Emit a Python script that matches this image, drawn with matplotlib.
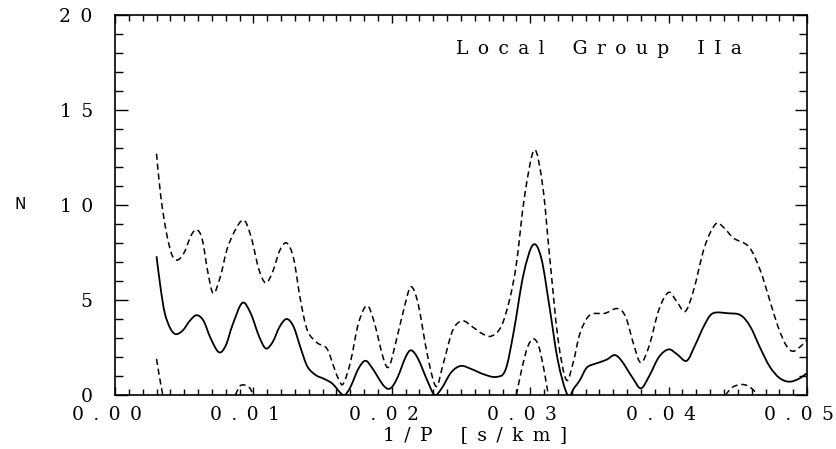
import numpy as np
import matplotlib
matplotlib.use("Agg")
import matplotlib.pyplot as plt
from matplotlib.path import Path
from matplotlib.patches import PathPatch
from matplotlib.ticker import MultipleLocator, FuncFormatter
from matplotlib.transforms import ScaledTranslation

# mean curve (solid)
x_mean = [0.0030, 0.0033, 0.0036, 0.0040, 0.0044, 0.0049, 0.0054, 0.0059, 0.0064, 0.0069,
          0.0075, 0.0080, 0.0085, 0.0092, 0.0098, 0.0104, 0.0109, 0.0114, 0.0119, 0.0124,
          0.0129, 0.0134, 0.0139, 0.0145, 0.0151, 0.0157, 0.0163, 0.0166, 0.0170, 0.0176,
          0.0181, 0.0186, 0.0194, 0.0199, 0.0204, 0.0210, 0.0214, 0.0219, 0.0226, 0.0231,
          0.0236, 0.0243, 0.0250, 0.0258, 0.0266, 0.0275, 0.0282, 0.0288, 0.0295, 0.0302,
          0.0308, 0.0314, 0.0320, 0.0327, 0.0332, 0.0336, 0.0341, 0.0348, 0.0355, 0.0361,
          0.0366, 0.0374, 0.0380, 0.0386, 0.0393, 0.0400, 0.0406, 0.0413, 0.0419, 0.0426,
          0.0432, 0.0443, 0.0452, 0.0459, 0.0466, 0.0473, 0.0480, 0.0487, 0.0494, 0.0500]
y_mean = [7.3, 5.6, 4.3, 3.5, 3.2, 3.4, 3.9, 4.2, 3.9, 3.0,
          2.25, 2.6, 3.7, 4.85, 4.3, 3.1, 2.45, 2.8, 3.6, 4.0,
          3.6, 2.5, 1.5, 1.05, 0.85, 0.6, 0.1, 0.0, 0.4, 1.4,
          1.8, 1.4, 0.5, 0.35, 0.9, 2.0, 2.35, 1.9, 0.7, 0.0,
          0.35, 1.2, 1.53, 1.35, 1.1, 0.95, 1.3, 3.3, 6.3, 7.9,
          7.2, 4.6, 1.8, 0.0, 0.4, 0.8, 1.45, 1.67, 1.85, 2.1,
          1.8, 0.9, 0.35, 1.0, 2.0, 2.4, 2.15, 1.8, 2.6, 3.7,
          4.3, 4.3, 4.2, 3.6, 2.5, 1.5, 0.9, 0.7, 0.85, 1.15]

# upper envelope (dashed)
x_upper = [0.0030, 0.0033, 0.0037, 0.0041, 0.0045, 0.0050, 0.0055, 0.0059, 0.0063, 0.0067,
           0.0071, 0.0076, 0.0082, 0.0092, 0.0098, 0.0104, 0.0109, 0.0114, 0.0119, 0.0124,
           0.0129, 0.0134, 0.0139, 0.0146, 0.0153, 0.0158, 0.0162, 0.0165, 0.0170, 0.0176,
           0.0182, 0.0187, 0.0194, 0.0198, 0.0203, 0.0210, 0.0214, 0.0219, 0.0226, 0.0232,
           0.0237, 0.0244, 0.0251, 0.0258, 0.0266, 0.0272, 0.0279, 0.0285, 0.0290, 0.0296,
           0.0303, 0.0309, 0.0314, 0.0320, 0.0326, 0.0331, 0.0336, 0.0343, 0.0354, 0.0363,
           0.0369, 0.0375, 0.0380, 0.0386, 0.0393, 0.0400, 0.0406, 0.0412, 0.0418, 0.0426,
           0.0434, 0.0440, 0.0447, 0.0458, 0.0466, 0.0473, 0.0479, 0.0485, 0.0490, 0.0496,
           0.0500]
y_upper = [12.7, 10.5, 8.6, 7.4, 7.1, 7.5, 8.4, 8.7, 8.2, 6.5,
           5.35, 6.2, 7.9, 9.2, 8.4, 6.6, 5.9, 6.5, 7.6, 8.0,
           7.2, 5.0, 3.4, 2.75, 2.45, 1.5, 0.75, 0.6, 1.7, 3.8,
           4.7, 3.9, 1.9, 1.5, 2.8, 4.9, 5.7, 4.8, 2.0, 0.45,
           1.6, 3.4, 3.9, 3.6, 3.2, 3.1, 3.6, 5.0, 6.9, 10.5,
           12.9, 11.0, 7.3, 3.0, 0.8, 1.7, 3.25, 4.2, 4.3, 4.55,
           4.1, 2.6, 1.7, 2.6, 4.5, 5.4, 4.9, 4.4, 5.5, 7.8,
           9.0, 8.8, 8.25, 7.8, 6.6, 5.0, 3.6, 2.6, 2.3, 2.6,
           2.9]

# lower envelope (dashed), the pieces that stay above zero
lower_x = [[0.0030, 0.0032, 0.00345],
           [0.0087, 0.0090, 0.0093, 0.0097, 0.0100],
           [0.0290, 0.0294, 0.0298, 0.0302, 0.0306, 0.0310, 0.0313],
           [0.0441, 0.0446, 0.0452, 0.0458, 0.0465]]
lower_y = [[1.9, 1.0, 0.0],
           [0.0, 0.45, 0.53, 0.4, 0.0],
           [0.0, 1.4, 2.5, 2.95, 2.6, 1.3, 0.0],
           [0.0, 0.4, 0.55, 0.45, 0.0]]

label_font = ['DejaVu Serif', 'DejaVu Sans']
EN = '\u2002'


def spaced(*words, gap=3):
    # wide letter spacing like the original plotting package
    return (EN * gap).join(EN.join(w) for w in words)


def smooth_path(xs, ys):
    # catmull-rom through the read points, as cubic bezier segments
    p = np.column_stack([xs, ys]).astype(float)
    pts = np.vstack([p[0], p, p[-1]])
    verts = [p[0]]
    codes = [Path.MOVETO]
    for i in range(1, len(pts) - 2):
        p0, p1, p2, p3 = pts[i - 1], pts[i], pts[i + 1], pts[i + 2]
        verts += [p1 + (p2 - p0) / 6, p2 - (p3 - p1) / 6, p2]
        codes += [Path.CURVE4] * 3
    return Path(verts, codes)


def draw_curve(ax, xs, ys, **kw):
    patch = PathPatch(smooth_path(xs, ys), fill=False, edgecolor='black', **kw)
    ax.add_patch(patch)


fig = plt.figure(figsize=(8.37, 4.49), dpi=100)
ax = fig.add_axes([0.1374, 0.1203, 0.8268, 0.8463])

dash = (0, (4, 2.5))
draw_curve(ax, x_mean, y_mean, lw=1.3)
draw_curve(ax, x_upper, y_upper, lw=1.1, linestyle=dash)
for xs, ys in zip(lower_x, lower_y):
    draw_curve(ax, xs, ys, lw=1.1, linestyle=dash)

ax.set_xlim(0, 0.05)
ax.set_ylim(0, 20)

ax.xaxis.set_major_locator(MultipleLocator(0.01))
ax.xaxis.set_minor_locator(MultipleLocator(0.001))
ax.yaxis.set_major_locator(MultipleLocator(5))
ax.yaxis.set_minor_locator(MultipleLocator(1))
ax.xaxis.set_major_formatter(FuncFormatter(lambda v, p: spaced(f'{v:.2f}')))
ax.yaxis.set_major_formatter(FuncFormatter(lambda v, p: spaced(f'{v:.0f}')))

ax.tick_params(which='both', direction='in', top=True, right=True, width=1.0)
ax.tick_params(axis='x', which='major', length=6, pad=8)
ax.tick_params(axis='x', which='minor', length=4.5)
ax.tick_params(axis='y', which='major', length=9, pad=16)
ax.tick_params(axis='y', which='minor', length=6)
shift = ScaledTranslation(-8 / 100, 0, fig.dpi_scale_trans)
for lab in ax.get_xticklabels():
    lab.set_transform(lab.get_transform() + shift)
for lab in ax.get_xticklabels() + ax.get_yticklabels():
    lab.set_fontfamily(label_font)
    lab.set_fontsize(13.5)

for sp in ax.spines.values():
    sp.set_linewidth(1.2)

ax.set_xlabel(spaced('1/P', '[s/km]', gap=3), fontfamily=label_font, fontsize=13.5)
ax.xaxis.set_label_coords(0.52, -0.082)
ax.set_ylabel('N', fontsize=11, rotation=0, va='center', ha='center')
ax.yaxis.set_label_coords(-0.137, 0.5)

ax.text(0.70, 0.91, spaced('Local', 'Group', 'IIa', gap=3),
        transform=ax.transAxes, ha='center', va='center',
        fontfamily=label_font, fontsize=13.5)

fig.savefig('out.png', dpi=100)
